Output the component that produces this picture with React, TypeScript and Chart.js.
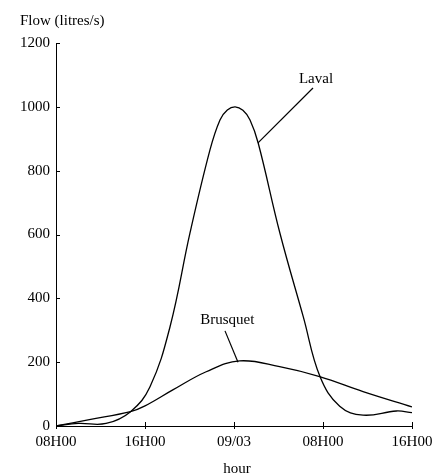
import React, { useEffect, useRef } from "react";
import { Chart, registerables } from "chart.js";

Chart.register(...registerables);

// Hours since 08H00 on the first day
const lavalHours = [0, 2, 4.5, 6.7, 8.45, 10.25, 12.04, 13.84, 14.74, 15.4, 16.1, 16.8, 17.44, 18.18, 20.13, 22.23, 23.73, 25.5, 27.6, 30.6, 32];
const lavalFlow = [0, 8, 8, 45, 123, 311, 604, 865, 959, 990, 1000, 989, 959, 886, 604, 342, 155, 62, 34, 47, 42];

const brusquetHours = [0, 3, 6.7, 8, 10.5, 13.5, 16.5, 20.1, 23.7, 27.6, 32];
const brusquetFlow = [0, 20, 45, 63, 113, 170, 204, 186, 155, 108, 60];

const xTickValues = [0, 8, 16, 24, 32];
const xTickLabels = ["08H00", "16H00", "09/03", "08H00", "16H00"];
const yTickValues = [0, 200, 400, 600, 800, 1000, 1200];

const yAxisTitle = "Flow (litres/s)";
const xAxisTitle = "hour";

// annotation label + leader line, in data coordinates
const labelNames = ["Laval", "Brusquet"];
const labelAt = [
  [23.37, 1076],
  [15.4, 319],
];
const leaderFrom = [
  [23.1, 1059],
  [15.19, 298],
];
const leaderTo = [
  [18.16, 887],
  [16.36, 200],
];

const FONT = '"Liberation Serif", "Times New Roman", serif';

export default function App() {
  const ref = useRef<HTMLCanvasElement | null>(null);

  useEffect(() => {
    document.body.style.margin = "0";
    const canvas = ref.current;
    if (!canvas) return;

    const extras = {
      id: "extras",
      afterDraw(chart: any) {
        const ctx = chart.ctx;
        const xs = chart.scales.x;
        const ys = chart.scales.y;
        const area = chart.chartArea;
        ctx.save();
        ctx.strokeStyle = "#000";
        ctx.lineWidth = 1;
        // inward ticks
        ctx.beginPath();
        xTickValues.forEach((v) => {
          const px = Math.round(xs.getPixelForValue(v)) + 0.5;
          ctx.moveTo(px, area.bottom - 4);
          ctx.lineTo(px, area.bottom + 3);
        });
        yTickValues.forEach((v) => {
          const py = Math.round(ys.getPixelForValue(v)) + 0.5;
          ctx.moveTo(area.left, py);
          ctx.lineTo(area.left + 4, py);
        });
        ctx.stroke();

        ctx.fillStyle = "#000";
        ctx.font = `15px ${FONT}`;
        ctx.textBaseline = "alphabetic";
        ctx.textAlign = "left";
        ctx.fillText(yAxisTitle, 20, 25);
        ctx.textAlign = "center";
        ctx.fillText(xAxisTitle, (area.left + area.right) / 2 + 3, 473);

        // annotations
        labelNames.forEach((name, i) => {
          const tx = xs.getPixelForValue(labelAt[i][0]);
          const ty = ys.getPixelForValue(labelAt[i][1]);
          ctx.fillText(name, tx, ty);
          ctx.beginPath();
          ctx.lineWidth = 1.2;
          ctx.moveTo(xs.getPixelForValue(leaderFrom[i][0]), ys.getPixelForValue(leaderFrom[i][1]));
          ctx.lineTo(xs.getPixelForValue(leaderTo[i][0]), ys.getPixelForValue(leaderTo[i][1]));
          ctx.stroke();
        });
        ctx.restore();
      },
    };

    const chart = new Chart(canvas, {
      type: "line",
      data: {
        datasets: [
          {
            label: "Laval",
            data: lavalHours.map((h, i) => ({ x: h, y: lavalFlow[i] })),
            borderColor: "#000",
            borderWidth: 1.3,
            pointRadius: 0,
            fill: false,
            tension: 0.4,
          },
          {
            label: "Brusquet",
            data: brusquetHours.map((h, i) => ({ x: h, y: brusquetFlow[i] })),
            borderColor: "#000",
            borderWidth: 1.3,
            pointRadius: 0,
            fill: false,
            tension: 0.4,
          },
        ],
      },
      options: {
        animation: false,
        responsive: false,
        maintainAspectRatio: false,
        devicePixelRatio: 1,
        layout: { padding: { top: 43, right: 33, left: 0, bottom: 0 } },
        plugins: {
          legend: { display: false },
          tooltip: { enabled: false },
          title: { display: false },
        },
        scales: {
          x: {
            type: "linear",
            min: 0,
            max: 32,
            afterFit(scale: any) {
              scale.height = 49;
            },
            afterBuildTicks(scale: any) {
              scale.ticks = xTickValues.map((v) => ({ value: v }));
            },
            ticks: {
              autoSkip: false,
              maxRotation: 0,
              padding: 7,
              color: "#000",
              font: { family: FONT, size: 15 },
              callback: (v: any) => {
                const idx = xTickValues.indexOf(Number(v));
                return idx >= 0 ? xTickLabels[idx] : "";
              },
            },
            grid: { drawOnChartArea: false, drawTicks: false },
            border: { display: true, color: "#000", width: 1 },
          },
          y: {
            type: "linear",
            min: 0,
            max: 1200,
            afterFit(scale: any) {
              scale.width = 56;
            },
            afterBuildTicks(scale: any) {
              scale.ticks = yTickValues.map((v) => ({ value: v }));
            },
            ticks: {
              padding: 6,
              color: "#000",
              font: { family: FONT, size: 15 },
              callback: (v: any) => String(v),
            },
            grid: { drawOnChartArea: false, drawTicks: false },
            border: { display: true, color: "#000", width: 1 },
          },
        },
      },
      plugins: [extras],
    });

    return () => chart.destroy();
  }, []);

  return (
    <div style={{ position: "relative", width: 445, height: 475, background: "#fff" }}>
      <canvas ref={ref} width={445} height={475} style={{ display: "block", width: 445, height: 475 }} />
    </div>
  );
}
